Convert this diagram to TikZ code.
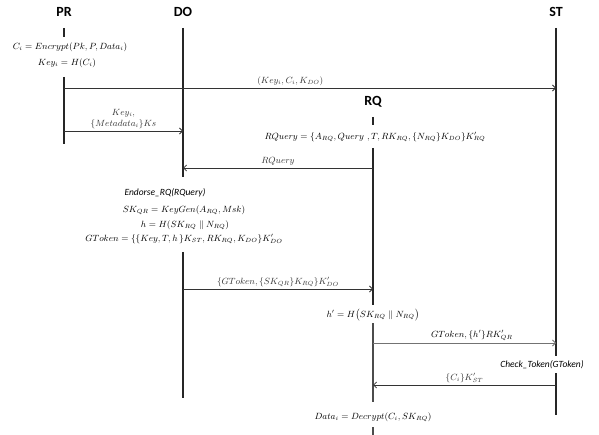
\documentclass[tikz,border=0pt]{standalone}
\usepackage{fontspec}
\newfontfamily\hdrfont{Carlito}
\usetikzlibrary{arrows.meta, calc}

\tikzset{
  actor/.style={font=\hdrfont\bfseries\fontsize{14}{16}\selectfont, inner sep=0pt},
  lifeline/.style={line width=1.1pt, black!85},
  msg/.style={line width=0.8pt, black!80, -{Straight Barb[length=3pt,width=6pt]}},
  calcnote/.style={font=\small, inner sep=1pt},
  stepnote/.style={font=\hdrfont\itshape\fontsize{9.5}{11}\selectfont, inner sep=1pt},
  lbl/.style={font=\small, above, inner sep=2pt}
}

\begin{document}
\begin{tikzpicture}[x=1pt, y=-1pt]
\useasboundingbox (0,0) rectangle (599,435);

% actors
\node[actor] (PR) at (64,12) {PR};
\node[actor] (DO) at (183,12) {DO};
\node[actor] (ST) at (556,12) {ST};
\node[actor] (RQ) at (373,102) {RQ};

% life lines (broken where a computation is written)
\draw[lifeline] (64,28) -- (64,37);
\draw[lifeline] (64,77) -- (64,144);
\draw[lifeline] (183,28) -- (183,177);
\draw[lifeline] (183,252) -- (183,398);
\draw[lifeline] (556,28) -- (556,356);
\draw[lifeline] (556,373) -- (556,415);
\draw[lifeline] (373,117) -- (373,125);
\draw[lifeline] (373,148) -- (373,305);
\draw[lifeline, black!70] (373,323) -- (373,402);
\draw[lifeline, black!70] (373,427) -- (373,435);

% message rows
\coordinate (m1) at (0,88);
\coordinate (m2) at (0,131);
\coordinate (m3) at (0,168);
\coordinate (m4) at (0,289);
\coordinate (m5) at (0,343);
\coordinate (m6) at (0,385);

% PR side
\node[calcnote] (enc) at (70,47) {$C_i = Encrypt(Pk,P,Data_i)$};
\node[calcnote] (keyi) at (67,63) {$Key_i = H(C_i)$};
\draw[msg] (PR |- m1) -- node[lbl, pos=0.46] {$(Key_i,C_i,K_{DO})$} (ST |- m1);
\draw[msg] (PR |- m2) -- node[lbl, align=center] {$Key_i,$\\$\{Metadata_i\}Ks$} (DO |- m2);

% RQ asks DO
\node[calcnote] (rqdef) at (375,137) {$RQuery = \{A_{RQ},Query\ ,T,RK_{RQ},\{N_{RQ}\}K_{DO}\}K'_{RQ}$};
\draw[msg] (RQ |- m3) -- node[lbl] {$RQuery$} (DO |- m3);

% DO endorses
\node[stepnote] (endorse) at (165,193) {Endorse\_RQ(RQuery)};
\node[calcnote] (skqr) at (184,210) {$SK_{QR} = KeyGen(A_{RQ},Msk)$};
\node[calcnote] (hval) at (185,225) {$h = H(SK_{RQ} \parallel N_{RQ})$};
\node[calcnote] (gtok) at (184,239) {$GToken = \{\{Key,T,h\,\}K_{ST},RK_{RQ},K_{DO}\}K'_{DO}$};
\draw[msg] (DO |- m4) -- node[lbl] {$\{GToken,\{SK_{QR}\}K_{RQ}\}K'_{DO}$} (RQ |- m4);

% RQ to ST
\node[calcnote] (hprime) at (373,315) {$h' = H\bigl(SK_{RQ} \parallel N_{RQ}\bigr)$};
\draw[msg, black!55] (RQ |- m5) -- node[lbl, black, pos=0.54] {$GToken,\{h'\}RK'_{QR}$} (ST |- m5);
\node[stepnote] (check) at (542,365) {Check\_Token(GToken)};
\draw[msg] (ST |- m6) -- node[lbl] {$\{C_i\}K'_{ST}$} (RQ |- m6);

% RQ decrypts
\node[calcnote] (dec) at (373,417) {$Data_i = Decrypt(C_i,SK_{RQ})$};
\end{tikzpicture}
\end{document}
